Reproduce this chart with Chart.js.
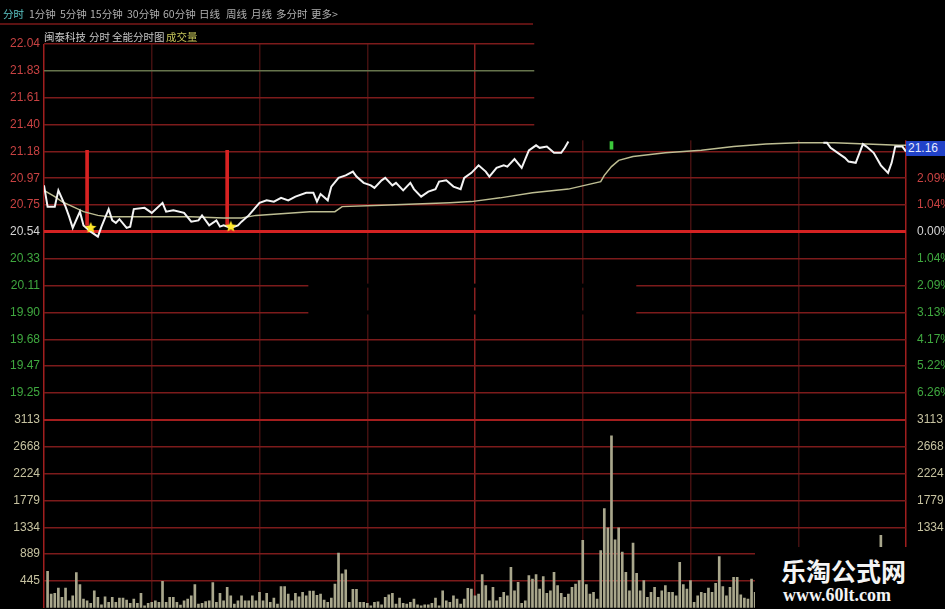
<!DOCTYPE html>
<html>
<head>
<meta charset="utf-8">
<script src="https://cdn.jsdelivr.net/npm/chart.js@4.4.1/dist/chart.umd.min.js"></script>
<style>
  html, body { margin: 0; padding: 0; background: #000; }
  #wrap { position: relative; width: 945px; height: 609px; overflow: hidden; background: #000; }
  #chart { position: absolute; left: 0; top: 0; }
  .txt { position: absolute; white-space: nowrap; font-family: "Noto Sans CJK SC", sans-serif; }
  .menu { top: 6px; font-size: 10.5px; color: #b0b0b0; }
  .topline { position: absolute; left: 0; top: 23px; width: 533px; height: 2px; background: #5c1212; }
  .title { top: 29px; font-size: 10.5px; color: #c8c8c8; }
  #tag { position: absolute; left: 906px; top: 141px; width: 39px; height: 15px; background: #2142c8;
         color: #e4eaff; font: 12px "Liberation Sans Narrow", "Liberation Sans", sans-serif; line-height: 15px; padding-left: 2px; box-sizing: border-box; }
  #mark { position: absolute; left: 755px; top: 547px; width: 190px; height: 62px; background: #000; }
  #mark .cn { position: absolute; left: 26px; top: 5px; font: bold 25px "Noto Sans CJK SC", sans-serif; color: #f4f4f4; letter-spacing: 0px; }
  #mark .url { position: absolute; left: 28px; top: 38px; font: bold 18px "Liberation Serif", "DejaVu Serif", serif; color: #f4f4f4; }
</style>
</head>
<body>
<div id="wrap">
  <canvas id="chart" width="945" height="619"></canvas>
  <div class="topline"></div>
  <span class="txt menu" style="left:3px;color:#5cc8c8">分时</span>
  <span class="txt menu" style="left:29px">1分钟</span>
  <span class="txt menu" style="left:60px">5分钟</span>
  <span class="txt menu" style="left:90px">15分钟</span>
  <span class="txt menu" style="left:127px">30分钟</span>
  <span class="txt menu" style="left:163px">60分钟</span>
  <span class="txt menu" style="left:199px">日线</span>
  <span class="txt menu" style="left:226px">周线</span>
  <span class="txt menu" style="left:251px">月线</span>
  <span class="txt menu" style="left:276px">多分时</span>
  <span class="txt menu" style="left:311px">更多&gt;</span>
  <span class="txt title" style="left:44px">闽泰科技</span>
  <span class="txt title" style="left:89px">分时</span>
  <span class="txt title" style="left:112px">全能分时图</span>
  <span class="txt title" style="left:166px;color:#c4c45a">成交量</span>
  <div id="tag">21.16</div>
  <div id="mark"><span class="cn">乐淘公式网</span><span class="url">www.60lt.com</span></div>
</div>
<script>
// axis labels
const priceLabels = ['22.04', '21.83', '21.61', '21.40', '21.18', '20.97', '20.75',
  '20.54', '20.33', '20.11', '19.90', '19.68', '19.47', '19.25'];
const pctLabels = ['', '', '', '', '', '2.09%', '1.04%',
  '0.00%', '1.04%', '2.09%', '3.13%', '4.17%', '5.22%', '6.26%'];
const volLabels = ['3113', '2668', '2224', '1779', '1334', '889', '445'];

// price line (minute from 9:30, price); null = no line drawn
const priceMinutes = [0, 1, 3, 4, 6, 7, 8, 10, 11, 13, 15, 16, 18, 19, 20, 21, 23, 24, 25, 28,
  30, 33, 34, 36, 39, 41, 43, 44, 46, 48, 49, 50, 52, 54, 55, 57, 60, 62, 64, 66,
  68, 70, 73, 75, 76, 77, 79, 80, 82, 84, 86, 87, 89, 91, 92, 94, 95, 97, 98, 100,
  102, 103, 105, 107, 109, 110, 112, 114, 116, 117, 119, 121, 123, 124, 126, 128, 129, 131, 133, 135,
  137, 138, 140, 142, 144, 145, 146, 147, 217, 218, 219, 222, 223, 224, 226, 228, 229, 231, 233, 235,
  236, 237, 239, 240];
const priceValues = [20.91, 20.74, 20.74, 20.87, 20.74, 20.66, 20.57, 20.70, 20.59, 20.54, 20.50, 20.58, 20.72, 20.63, 20.61, 20.64, 20.57, 20.58, 20.72, 20.73,
  20.69, 20.77, 20.70, 20.71, 20.69, 20.62, 20.63, 20.67, 20.59, 20.63, 20.58, 20.59, 20.57, 20.59, 20.62, 20.67, 20.77, 20.79, 20.78, 20.81,
  20.79, 20.82, 20.85, 20.85, 20.78, 20.84, 20.79, 20.90, 20.97, 20.99, 21.02, 20.98, 20.93, 20.91, 20.89, 20.95, 20.97, 20.91, 20.93, 20.87,
  20.93, 20.88, 20.82, 20.86, 20.88, 20.94, 20.95, 20.90, 20.88, 20.97, 21.01, 21.07, 21.02, 20.98, 21.05, 21.07, 21.06, 21.12, 21.05, 21.19,
  21.23, 21.21, 21.22, 21.17, 21.17, 21.21, 21.26, null, 21.25, 21.25, 21.21, 21.15, 21.13, 21.10, 21.09, 21.24, 21.22, 21.17, 21.07, 21.01,
  21.09, 21.22, 21.22, 21.18];

// average price line
const avgMinutes = [0, 3, 5, 8, 11, 15, 18, 27, 41, 50, 55, 59, 64, 74, 81, 83, 94, 113, 119, 127,
  136, 146, 149, 155, 156, 158, 160, 164, 173, 183, 192, 201, 210, 220, 229, 238, 240];
const avgValues = [20.87, 20.82, 20.78, 20.74, 20.70, 20.67, 20.66, 20.66, 20.66, 20.65, 20.65, 20.67, 20.68, 20.70, 20.70, 20.74, 20.75, 20.77, 20.78, 20.81,
  20.85, 20.88, 20.90, 20.94, 20.99, 21.06, 21.11, 21.14, 21.17, 21.19, 21.22, 21.24, 21.25, 21.25, 21.24, 21.23, 21.23];

// volume per minute (index = minute); null where the bar is not visible
const volumeValues = [
  null, 605, 228, 239, 327, 172, 327, 117, 200, 583,
  383, 144, 117, 72, 283, 172, 50, 183, 89, 172,
  89, 161, 161, 128, 72, 144, 72, 239, 33, 72,
  89, 117, 89, 438, 89, 172, 172, 89, 44, 117,
  144, 200, 383, 61, 72, 105, 117, 416, 89, 239,
  117, 339, 200, 61, 117, 200, 117, 117, 200, 117,
  255, 117, 239, 89, 161, 61, 350, 350, 228, 117,
  239, 183, 255, 200, 278, 278, 208, 228, 128, 89,
  161, 394, 905, 561, 627, 89, 305, 305, 89, 89,
  72, 33, 89, 100, 50, 172, 216, 239, 61, 161,
  72, 61, 89, 144, 50, 33, 50, 50, 72, 161,
  33, 283, 117, 89, 200, 144, 61, 144, 322, 311,
  200, 228, 549, 366, 117, 339, 117, 172, 255, 200,
  672, 283, 422, 72, 117, 533, 477, 549, 311, 516,
  239, 283, 588, 366, 239, 172, 228, 339, 394, 450,
  1116, 383, 228, 255, 144, 949, 1643, 1326, 2847, 1127,
  1326, 921, 588, 283, 1071, 572, 283, 450, 172, 255,
  339, 172, 283, 366, 255, 255, 200, 755, 383, 311,
  450, 89, 200, 255, 239, 327, 255, 405, 849, 350,
  200, 339, 505, 505, 216, 161, 144, 477, 255, null,
  null, null, null, null, null, null, null, null, null, null,
  null, null, null, null, null, null, null, null, null, null,
  null, null, null, null, null, null, null, null, null, null,
  null, null, null, 1199, null, null, null, null, null, null,
  null
];

// buy signals
const signalMinutes = [12, 51];
const signalRange = [20.59, 21.19];
const starMinutes = [13, 52];
const starValues = [20.57, 20.58];
const flagMinutes = [158];
const flagRange = [21.20, 21.26];

const priceTop = 22.04;
const priceStep = (22.04 - 19.25) / 13;
const priceBottom = priceTop - 14 * priceStep;
const volTop = 3113;
const priceTicks = priceLabels.map((l, i) => priceTop - i * priceStep);
const volTicks = volLabels.map((l, i) => volTop - i * volTop / 7);
const timeTicks = [0, 30, 60, 90, 120, 150, 180, 210, 240];

const RED = '#c84242', GREEN = '#3fa83f', WHITE = '#d4d4d4', KHAKI = '#c6c2a0';
const GRID = '#7c1b1b';

function makeStar(r, color) {
  const c = document.createElement('canvas');
  c.width = c.height = r * 2 + 2;
  const g = c.getContext('2d');
  g.fillStyle = color;
  g.beginPath();
  for (let k = 0; k < 10; k++) {
    const a = -Math.PI / 2 + k * Math.PI / 5;
    const rr = k % 2 ? r * 0.45 : r;
    g.lineTo(r + 1 + rr * Math.cos(a), r + 1 + rr * Math.sin(a));
  }
  g.closePath();
  g.fill();
  return c;
}

const pairs = (xs, ys) => xs.map((x, i) => ({ x: x, y: ys[i] }));

// parts of the screenshot that were blanked out
const maskPlugin = {
  id: 'mask',
  beforeDatasetsDraw(chart) {
    const { ctx, scales: { x, y } } = chart;
    ctx.save();
    ctx.fillStyle = '#000';
    const left = x.getPixelForValue(136.5);
    const top = chart.chartArea.top - 8;
    ctx.fillRect(left, top, chart.width - left, y.getPixelForValue(21.27) - top);
    const gx0 = x.getPixelForValue(73.6), gx1 = x.getPixelForValue(164.9);
    [9, 10].forEach(i => {
      const py = y.getPixelForValue(priceTicks[i]);
      ctx.fillRect(gx0, py - 2, gx1 - gx0, 4);
    });
    ctx.restore();
  }
};

Chart.defaults.font.family = '"Liberation Sans Narrow", "Liberation Sans", Arial, sans-serif';
Chart.defaults.font.size = 12;

const idx = c => (c && typeof c.index === 'number') ? c.index : -1;
const timeColor = c => {
  const v = timeTicks[idx(c)];
  return (v === 0 || v === 240) ? '#a01e1e' : v === 120 ? '#8a2020' : '#431010';
};

new Chart(document.getElementById('chart'), {
  type: 'line',
  data: {
    datasets: [
      {
        type: 'line', label: 'star', order: 0, yAxisID: 'y',
        data: pairs(starMinutes, starValues),
        showLine: false, pointStyle: makeStar(6, '#ffe82a'), pointRadius: 6,
      },
      {
        type: 'line', label: 'price', order: 1, yAxisID: 'y',
        data: pairs(priceMinutes, priceValues),
        borderColor: '#f4f4f4', borderWidth: 2, pointRadius: 0, tension: 0, spanGaps: false,
      },
      {
        type: 'line', label: 'avg', order: 2, yAxisID: 'y',
        data: pairs(avgMinutes, avgValues),
        borderColor: '#bdbd92', borderWidth: 1.5, pointRadius: 0, tension: 0,
      },
      {
        type: 'bar', label: 'signal', order: 3, yAxisID: 'y', grouped: false,
        data: signalMinutes.map(m => ({ x: m, y: signalRange })),
        backgroundColor: '#d82222', barThickness: 3,
      },
      {
        type: 'bar', label: 'flag', order: 3, yAxisID: 'y', grouped: false,
        data: flagMinutes.map(m => ({ x: m, y: flagRange })),
        backgroundColor: '#3cc83c', barThickness: 3,
      },
      {
        type: 'bar', label: 'volume', order: 5, yAxisID: 'yv', grouped: false,
        data: volumeValues.map((v, i) => ({ x: i, y: v })),
        backgroundColor: '#a9a78c', barThickness: 2,
      },
    ],
  },
  options: {
    responsive: false,
    animation: false,
    devicePixelRatio: 1,
    layout: { padding: { top: 44, bottom: 2, left: 0, right: 0 } },
    plugins: { legend: { display: false }, tooltip: { enabled: false } },
    scales: {
      x: {
        type: 'linear', min: 0, max: 240, offset: false,
        afterBuildTicks: s => { s.ticks = timeTicks.map(v => ({ value: v })); },
        afterFit: s => { s.height = 0; },
        ticks: { display: false },
        border: { display: false, color: '#000' },
        grid: { offset: false, drawTicks: false, color: timeColor, lineWidth: 1.5 },
      },
      y: {
        type: 'linear', position: 'left', stack: 'left', stackWeight: 14, weight: 2,
        min: priceBottom, max: priceTop,
        afterBuildTicks: s => { s.ticks = priceTicks.map(v => ({ value: v })); },
        afterFit: s => { s.width = 44; },
        border: { display: false, color: '#000' },
        ticks: {
          autoSkip: false, padding: 4,
          callback: (v, i) => priceLabels[i],
          color: c => idx(c) < 7 ? RED : idx(c) === 7 ? WHITE : GREEN,
        },
        grid: {
          drawTicks: false,
          color: c => idx(c) === 1 ? '#66744c' : idx(c) === 7 ? '#d42222' : GRID,
          lineWidth: c => idx(c) === 7 ? 3 : 1.5,
        },
      },
      yv: {
        type: 'linear', position: 'left', stack: 'left', stackWeight: 7, weight: 1,
        min: 0, max: volTop,
        afterBuildTicks: s => { s.ticks = volTicks.map(v => ({ value: v })); },
        afterFit: s => { s.width = 44; },
        border: { display: false, color: '#000' },
        ticks: { autoSkip: false, padding: 4, callback: (v, i) => volLabels[i], color: KHAKI },
        grid: {
          drawTicks: false,
          color: c => idx(c) === 0 ? '#a41e1e' : GRID,
          lineWidth: c => idx(c) === 0 ? 2 : 1.5,
        },
      },
      yr: {
        type: 'linear', position: 'right', stack: 'right', stackWeight: 14, weight: 1,
        min: priceBottom, max: priceTop,
        afterBuildTicks: s => { s.ticks = priceTicks.map(v => ({ value: v })); },
        afterFit: s => { s.width = 39; },
        border: { display: false, color: '#000' },
        ticks: {
          autoSkip: false, padding: 3,
          callback: (v, i) => pctLabels[i],
          color: c => idx(c) < 7 ? RED : idx(c) === 7 ? WHITE : GREEN,
        },
        grid: { display: false },
      },
      yvr: {
        type: 'linear', position: 'right', stack: 'right', stackWeight: 7, weight: 2,
        min: 0, max: volTop,
        afterBuildTicks: s => { s.ticks = volTicks.map(v => ({ value: v })); },
        afterFit: s => { s.width = 39; },
        border: { display: false, color: '#000' },
        ticks: { autoSkip: false, padding: 3, callback: (v, i) => volLabels[i], color: KHAKI },
        grid: { display: false },
      },
    },
  },
  plugins: [maskPlugin],
});
</script>
</body>
</html>
